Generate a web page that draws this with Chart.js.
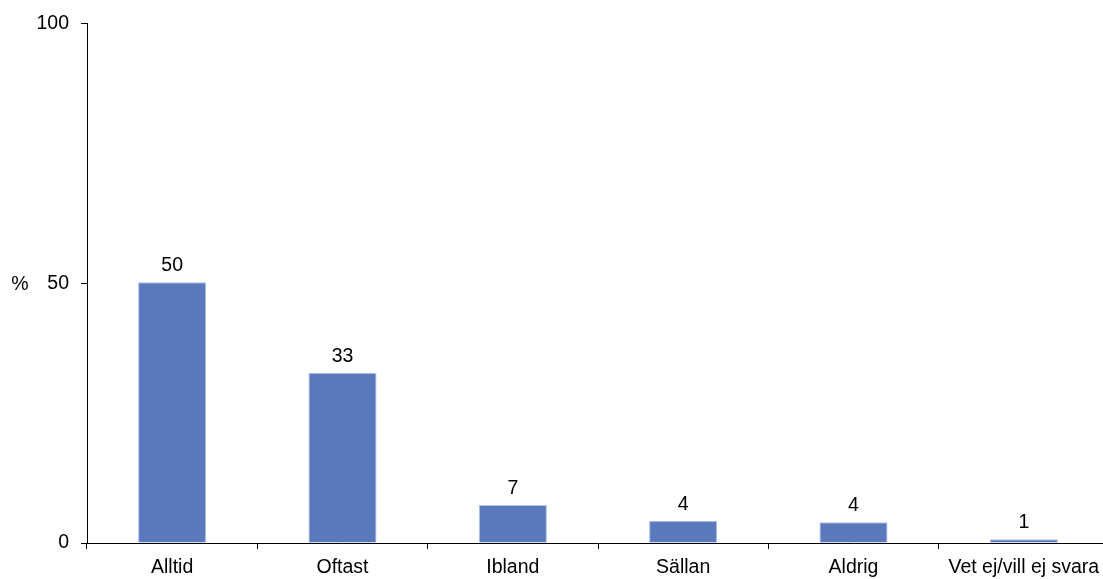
<!DOCTYPE html>
<html>
<head>
<meta charset="utf-8">
<script src="https://cdn.jsdelivr.net/npm/chart.js@4/dist/chart.umd.min.js"></script>
<style>
  html, body { margin: 0; padding: 0; background: #fff; overflow: hidden; }
  #wrap { width: 1112px; height: 579px; position: relative; }
</style>
</head>
<body>
<div id="wrap"><canvas id="chart"></canvas></div>
<script>
// categories and values (percent)
const categories = ["Alltid", "Oftast", "Ibland", "Sällan", "Aldrig", "Vet ej/vill ej svara"];
const values = [50.2, 32.8, 7.3, 4.3, 4.0, 0.7];
const valueLabels = ["50", "33", "7", "4", "4", "1"];
const yTicks = [0, 50, 100];

const FONT = "'Liberation Sans', Arial, sans-serif";
const FSIZE = 19.5;

// draws the numbers above the bars and the "%" beside the y axis
const labelPlugin = {
    id: 'labels',
    afterDatasetsDraw(chart) {
        const ctx = chart.ctx;
        const meta = chart.getDatasetMeta(0);
        ctx.save();
        ctx.font = FSIZE + "px " + FONT;
        ctx.fillStyle = '#000';
        ctx.textAlign = 'center';
        ctx.textBaseline = 'alphabetic';
        meta.data.forEach((bar, i) => {
            ctx.fillText(valueLabels[i], bar.x, bar.y - 11);
        });
        // percent sign next to the 50 tick
        const y = chart.scales.y.getPixelForValue(50);
        ctx.textBaseline = 'middle';
        ctx.fillText('%', 20, y + 1);
        ctx.restore();
    }
};

new Chart(document.getElementById('chart'), {
    type: 'bar',
    data: {
        labels: categories,
        datasets: [{
            data: values,
            backgroundColor: '#5a79bd',
            borderColor: '#b3c3e5',
            borderWidth: 1,
            categoryPercentage: 1.0,
            barPercentage: 0.4
        }]
    },
    options: {
        responsive: true,
        maintainAspectRatio: false,
        animation: false,
        layout: { padding: { top: 22, right: 3, left: 0, bottom: 0 } },
        plugins: {
            legend: { display: false },
            tooltip: { enabled: false }
        },
        scales: {
            x: {
                grid: {
                    offset: true,
                    drawOnChartArea: false,
                    drawTicks: true,
                    tickLength: 6,
                    color: '#000'
                },
                border: { display: true, color: '#000', width: 1 },
                ticks: {
                    color: '#000',
                    font: { family: FONT, size: FSIZE },
                    padding: 7,
                    maxRotation: 0,
                    autoSkip: false
                },
                afterFit(scale) { scale.height = 36; }
            },
            y: {
                min: 0,
                max: 100,
                afterBuildTicks(scale) {
                    scale.ticks = yTicks.map(v => ({ value: v }));
                },
                grid: {
                    drawOnChartArea: false,
                    drawTicks: true,
                    tickLength: 6,
                    color: '#000'
                },
                border: { display: true, color: '#000', width: 1 },
                ticks: {
                    color: '#000',
                    font: { family: FONT, size: FSIZE },
                    padding: 12
                },
                afterFit(scale) { scale.width = 87; }
            }
        }
    },
    plugins: [labelPlugin]
});
</script>
</body>
</html>
